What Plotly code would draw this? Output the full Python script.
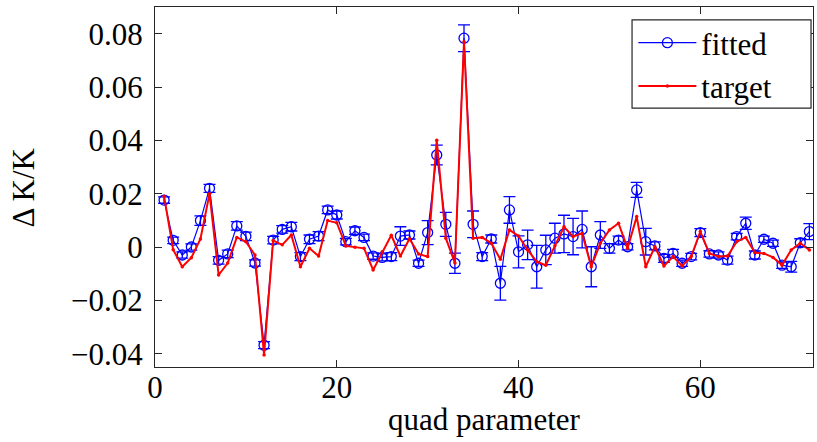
import plotly.graph_objects as go

quad = list(range(1, 73))

fitted = [0.0176, 0.0025, -0.003, 0.000, 0.0099, 0.022, -0.005, -0.0026, 0.0079, 0.004,
          -0.006, -0.0368, 0.0026, 0.0066, 0.0076, -0.0036, 0.0029, 0.0041, 0.0139, 0.012,
          0.002, 0.0061, 0.0036, -0.0034, -0.0039, -0.0036, 0.0041, 0.0045, -0.0061, 0.0054,
          0.0345, 0.0085, -0.0061, 0.0783, 0.0085, -0.0036, 0.003, -0.0136, 0.0139, -0.0018,
          0.0008, -0.0074, -0.0011, 0.0033, 0.0049, 0.0039, 0.0066, -0.0074, 0.0045, -0.0005,
          0.0026, 0.0001, 0.0214, 0.002, 0.0004, -0.0043, -0.0024, -0.0061, -0.0036, 0.0054,
          -0.0026, -0.003, -0.0049, 0.0039, 0.0089, -0.003, 0.0029, 0.0014, -0.0068, -0.0074,
          0.0016, 0.0058]

fitted_err = [0.0012, 0.0012, 0.0012, 0.0012, 0.0018, 0.0015, 0.0014, 0.0014, 0.0016, 0.0016,
              0.0012, 0.0013, 0.0014, 0.0014, 0.0016, 0.0015, 0.0016, 0.0017, 0.0014, 0.0015,
              0.0012, 0.0014, 0.0012, 0.0012, 0.0013, 0.0015, 0.0035, 0.0015, 0.0012, 0.0045,
              0.0037, 0.0045, 0.0038, 0.005, 0.005, 0.0015, 0.0015, 0.0063, 0.005, 0.006,
              0.0055, 0.008, 0.0055, 0.0056, 0.007, 0.0068, 0.0069, 0.0075, 0.005, 0.0018,
              0.0015, 0.0012, 0.0028, 0.005, 0.0015, 0.0015, 0.0015, 0.0012, 0.0012, 0.0015,
              0.0012, 0.0012, 0.0015, 0.0012, 0.0023, 0.0015, 0.0012, 0.0012, 0.0012, 0.002,
              0.0015, 0.003]

target = [0.019, -0.001, -0.0074, -0.004, 0.003, 0.020, -0.0105, -0.006, 0.0036, 0.002,
          -0.003, -0.0405, 0.0024, 0.0008, 0.0045, -0.0074, -0.0005, -0.0034, 0.0099, 0.0091,
          0.0004, -0.0001, -0.0005, -0.0086, -0.0018, 0.0044, -0.0034, 0.0031, -0.0026, -0.0036,
          0.040, 0.0033, -0.006, 0.077, 0.0033, 0.0036, 0.0014, -0.0046, 0.0064, 0.0041,
          -0.0011, -0.0055, -0.0068, 0.0005, 0.0076, 0.0039, 0.0051, -0.0074, 0.0014, 0.0064,
          0.0089, -0.0005, 0.0114, -0.0074, 0.0001, -0.0071, -0.0036, -0.0071, -0.0036, 0.0058,
          -0.0024, -0.0036, -0.0034, 0.002, 0.0036, -0.0021, -0.0024, -0.0039, -0.0068, -0.0011,
          0.0014, -0.0011]

x_ticks = [0, 20, 40, 60]
x_ticktext = ["0", "20", "40", "60"]
y_ticks = [-0.04, -0.02, 0, 0.02, 0.04, 0.06, 0.08]
y_ticktext = ["\u22120.04", "\u22120.02", "0", "0.02", "0.04", "0.06", "0.08"]

FONT = "Liberation Serif"
FS = 31

fig = go.Figure()
fig.add_trace(go.Scatter(
    x=quad, y=fitted, name="fitted", mode="lines+markers",
    line=dict(color="#0000ff", width=1.2),
    marker=dict(symbol="circle-open", size=10, color="#0000ff", line=dict(width=1.3, color="#0000ff")),
    error_y=dict(type="data", array=fitted_err, visible=True, color="#0000ff", thickness=1.3, width=6),
))
fig.add_trace(go.Scatter(
    x=quad, y=target, name="target", mode="lines+markers",
    line=dict(color="#ff0000", width=2),
    marker=dict(symbol="circle", size=3.5, color="#ff0000"),
))

axis_common = dict(
    showline=True, linecolor="#262626", linewidth=1.2, mirror="ticks",
    ticks="inside", ticklen=7, tickwidth=1.2, tickcolor="#262626",
    showgrid=False, zeroline=False, automargin=False,
    tickfont=dict(family=FONT, size=FS, color="black"),
)

fig.update_layout(
    width=817, height=442, autosize=False,
    margin=dict(l=155, r=4, t=7, b=75),
    paper_bgcolor="white", plot_bgcolor="white",
    font=dict(family=FONT, size=FS, color="black"),
    showlegend=True,
    legend=dict(
        x=0.727, y=0.975, xanchor="left", yanchor="top",
        bgcolor="rgba(0,0,0,0)", borderwidth=0,
        font=dict(family=FONT, size=31, color="black"),
        itemwidth=58, tracegroupgap=0,
    ),
    shapes=[dict(type="rect", xref="paper", yref="paper",
                 x0=0.725, x1=0.997, y0=0.719, y1=0.964,
                 line=dict(color="#262626", width=1.2), fillcolor="white", layer="above")],
    xaxis=dict(range=[0, 72.4], tickvals=x_ticks, ticktext=x_ticktext,
               ticklabelstandoff=-7, **axis_common),
    yaxis=dict(range=[-0.045, 0.09], tickvals=y_ticks, ticktext=y_ticktext,
               ticklabelstandoff=5, **axis_common),
    annotations=[
        dict(text="quad parameter", xref="paper", yref="paper", x=0.5, y=-0.147,
             xanchor="center", yanchor="middle", showarrow=False,
             font=dict(family=FONT, size=FS, color="black")),
        dict(text="\u0394 K/K", xref="paper", yref="paper", x=-0.2, y=0.5,
             xanchor="center", yanchor="middle", textangle=-90, showarrow=False,
             font=dict(family=FONT, size=FS, color="black")),
    ],
)

fig.write_html("out.html", config={"displayModeBar": False},
               post_script="document.body.style.margin='0';document.body.style.padding='0';")
